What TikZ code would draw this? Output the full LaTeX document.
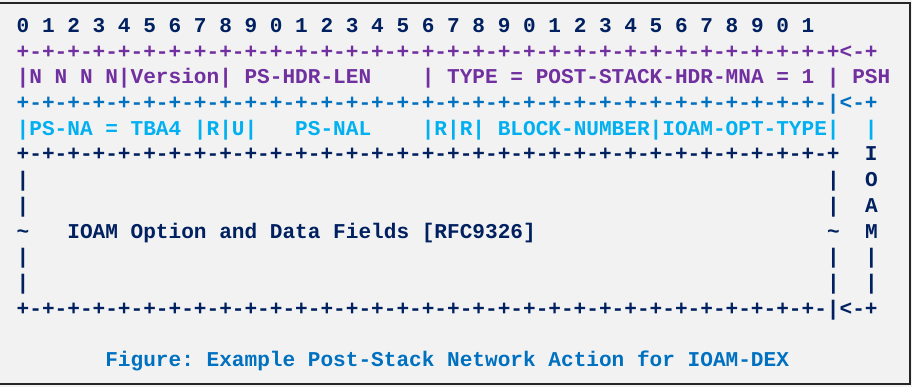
\documentclass[tikz,border=0pt]{standalone}
\usepackage{fontspec}
\newfontfamily\asc[WordSpace={1,0,0}]{Liberation Mono}
\definecolor{bgc}{HTML}{F2F2F2}
\definecolor{frm}{HTML}{262626}
\definecolor{navy}{HTML}{002060}
\definecolor{purp}{HTML}{7030A0}
\definecolor{blu}{HTML}{0070C0}
\definecolor{cya}{HTML}{00B0F0}
\begin{document}
\begin{tikzpicture}[x=1pt,y=-1pt,
  ln/.style={anchor=base west, inner sep=0pt, outer sep=0pt,
    font=\asc\bfseries\fontsize{21.1}{25}\selectfont}]
\useasboundingbox (0,0) rectangle (912,387);
\fill[bgc] (0,0) rectangle (912,387);
\draw[frm, line width=1.2pt] (0,3) -- (910,3);
\draw[frm, line width=2.2pt] (910.3,2.4) -- (910.3,384.3);
\draw[frm, line width=2.2pt] (0,384.3) -- (911.4,384.3);
\def\bx{16.7}
\def\by{32.5}
\def\dy{25.7}
\node[ln,navy] (r0) at (\bx,\by+0*\dy) {0~1~2~3~4~5~6~7~8~9~0~1~2~3~4~5~6~7~8~9~0~1~2~3~4~5~6~7~8~9~0~1};
\node[ln,purp] (r1) at (\bx,\by+1*\dy) {+-+-+-+-+-+-+-+-+-+-+-+-+-+-+-+-+-+-+-+-+-+-+-+-+-+-+-+-+-+-+-+-+<-+};
\node[ln,purp] (r2) at (\bx,\by+2*\dy) {|N~N~N~N|Version|~PS-HDR-LEN~~~~|~TYPE~=~POST-STACK-HDR-MNA~=~1~|~PSH};
\node[ln,blu] (r3) at (\bx,\by+3*\dy) {+-+-+-+-+-+-+-+-+-+-+-+-+-+-+-+-+-+-+-+-+-+-+-+-+-+-+-+-+-+-+-+-|<-+};
\node[ln,cya] (r4) at (\bx,\by+4*\dy) {|PS-NA~=~TBA4~|R|U|~~~PS-NAL~~~~|R|R|~BLOCK-NUMBER|IOAM-OPT-TYPE|~~|};
\node[ln,navy] (r5) at (\bx,\by+5*\dy) {+-+-+-+-+-+-+-+-+-+-+-+-+-+-+-+-+-+-+-+-+-+-+-+-+-+-+-+-+-+-+-+-+~~I};
\node[ln,navy] (r6) at (\bx,\by+6*\dy) {|~~~~~~~~~~~~~~~~~~~~~~~~~~~~~~~~~~~~~~~~~~~~~~~~~~~~~~~~~~~~~~~|~~O};
\node[ln,navy] (r7) at (\bx,\by+7*\dy) {|~~~~~~~~~~~~~~~~~~~~~~~~~~~~~~~~~~~~~~~~~~~~~~~~~~~~~~~~~~~~~~~|~~A};
\node[ln,navy] (r8) at (\bx,\by+8*\dy) {\textasciitilde~~~IOAM~Option~and~Data~Fields~[RFC9326]~~~~~~~~~~~~~~~~~~~~~~~\textasciitilde~~M};
\node[ln,navy] (r9) at (\bx,\by+9*\dy) {|~~~~~~~~~~~~~~~~~~~~~~~~~~~~~~~~~~~~~~~~~~~~~~~~~~~~~~~~~~~~~~~|~~|};
\node[ln,navy] (r10) at (\bx,\by+10*\dy) {|~~~~~~~~~~~~~~~~~~~~~~~~~~~~~~~~~~~~~~~~~~~~~~~~~~~~~~~~~~~~~~~|~~|};
\node[ln,navy] (r11) at (\bx,\by+11*\dy) {+-+-+-+-+-+-+-+-+-+-+-+-+-+-+-+-+-+-+-+-+-+-+-+-+-+-+-+-+-+-+-+-|<-+};
\node[ln,blu] (cap) at (\bx,\by+13*\dy) {~~~~~~~Figure:~Example~Post-Stack~Network~Action~for~IOAM-DEX};
\end{tikzpicture}
\end{document}
